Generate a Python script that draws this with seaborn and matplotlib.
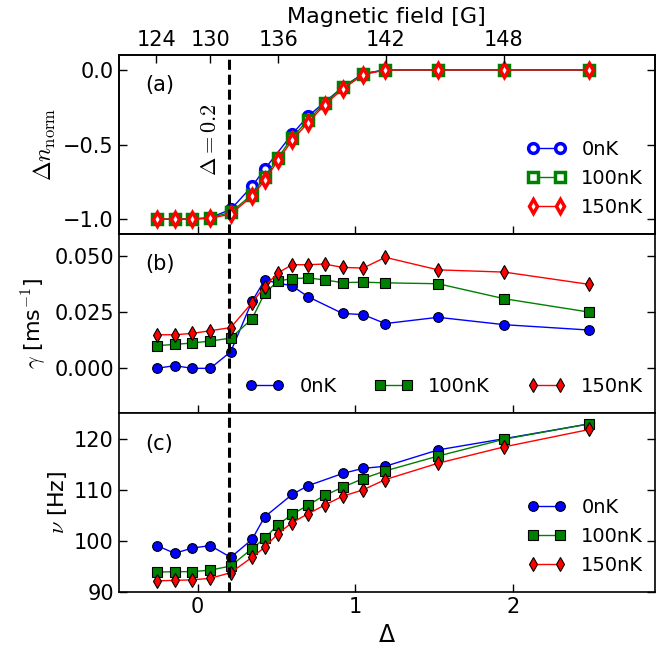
import numpy as np
import matplotlib
matplotlib.use("Agg")
import matplotlib.pyplot as plt
import seaborn as sns

# ---------------- data ----------------
delta_all = [-0.26, -0.145, -0.035, 0.08, 0.21, 0.345, 0.425, 0.51, 0.60, 0.70,
             0.805, 0.92, 1.05, 1.19, 1.525, 1.945, 2.485]
delta_0nK = [-0.26, -0.145, -0.035, 0.08, 0.21, 0.345, 0.425, 0.60, 0.70,
             0.92, 1.05, 1.19, 1.525, 1.945, 2.485]

dn_0nK = [-1.0, -1.0, -1.0, -0.99, -0.935, -0.78, -0.665, -0.43, -0.31,
          -0.115, -0.025, 0.0, 0.0, 0.0, 0.0]
dn_100nK = [-1.0, -1.0, -1.0, -0.99, -0.955, -0.835, -0.72, -0.588, -0.453, -0.336,
            -0.223, -0.117, -0.025, 0.0, 0.0, 0.0, 0.0]
dn_150nK = [-1.0, -1.0, -1.0, -0.995, -0.966, -0.847, -0.741, -0.606, -0.471, -0.354,
            -0.234, -0.128, -0.032, 0.0, 0.0, 0.0, 0.0]

gamma_0nK = [0.0, 0.0012, 0.0, 0.0, 0.0074, 0.0299, 0.0394, 0.0368, 0.032,
             0.0245, 0.024, 0.020, 0.0228, 0.0195, 0.0171]
gamma_100nK = [0.0101, 0.0107, 0.0113, 0.0122, 0.0135, 0.0221, 0.0335, 0.0390, 0.0401,
               0.0404, 0.0395, 0.0383, 0.0385, 0.0382, 0.0378, 0.0311, 0.0251]
gamma_150nK = [0.0150, 0.0150, 0.0156, 0.0168, 0.0182, 0.0293, 0.0365, 0.0427, 0.0463,
               0.0463, 0.0466, 0.0451, 0.0448, 0.0496, 0.0440, 0.0430, 0.0375]

nu_0nK = [99.1, 97.6, 98.6, 99.1, 96.8, 100.3, 104.7, 109.1, 110.8,
          113.2, 114.2, 114.6, 117.8, 120.0, 122.9]
nu_100nK = [93.9, 94.0, 94.0, 94.3, 95.1, 98.5, 100.5, 103.2, 105.2, 107.0,
            108.9, 110.5, 112.2, 113.7, 116.6, 119.9, 122.9]
nu_150nK = [92.2, 92.3, 92.4, 92.7, 93.8, 96.8, 98.75, 101.45, 103.6, 105.3,
            107.0, 108.75, 110.0, 112.0, 115.2, 118.4, 121.8]

labels = ["0nK", "100nK", "150nK"]
field_tick_pos = [-0.262, 0.08, 0.512, 1.192, 1.943]
field_tick_labels = ["124", "130", "136", "142", "148"]
delta_marker = 0.2

# ---------------- style ----------------
sns.set_style("ticks", {"xtick.direction": "in", "ytick.direction": "in"})
plt.rcParams["font.family"] = ["DejaVu Sans"]
plt.rcParams["mathtext.fontset"] = "cm"
for key in ["text.color", "axes.labelcolor", "xtick.color", "ytick.color",
            "axes.edgecolor", "xtick.labelcolor", "ytick.labelcolor"]:
    plt.rcParams[key] = "black"
plt.rcParams["axes.linewidth"] = 1.2
plt.rcParams["xtick.major.size"] = 6
plt.rcParams["ytick.major.size"] = 6
plt.rcParams["xtick.major.width"] = 1.0
plt.rcParams["ytick.major.width"] = 1.0
plt.rcParams["xtick.labelsize"] = 15
plt.rcParams["ytick.labelsize"] = 15

fig = plt.figure(figsize=(6.71, 6.55), dpi=100)
axes = fig.subplots(3, 1, sharex=True)
fig.subplots_adjust(left=0.177, right=0.976, top=0.916, bottom=0.096, hspace=0)

colors = ["b", "g", "r"]
markers = ["o", "s", "d"]
MS = 7


def draw(ax, x, y, i, hollow):
    kw = dict(x=x, y=y, color=colors[i], marker=markers[i], markersize=MS,
              linewidth=1.0, label=labels[i], ax=ax, sort=False, estimator=None)
    if hollow:
        kw.update(markerfacecolor="w", markeredgecolor=colors[i], markeredgewidth=2.5)
    else:
        kw.update(markerfacecolor=colors[i], markeredgecolor="k", markeredgewidth=0.8)
    sns.lineplot(**kw)


ax_a, ax_b, ax_c = axes
draw(ax_a, delta_0nK, dn_0nK, 0, True)
draw(ax_a, delta_all, dn_100nK, 1, True)
draw(ax_a, delta_all, dn_150nK, 2, True)

draw(ax_b, delta_0nK, gamma_0nK, 0, False)
draw(ax_b, delta_all, gamma_100nK, 1, False)
draw(ax_b, delta_all, gamma_150nK, 2, False)

draw(ax_c, delta_0nK, nu_0nK, 0, False)
draw(ax_c, delta_all, nu_100nK, 1, False)
draw(ax_c, delta_all, nu_150nK, 2, False)

for ax in axes:
    ax.axvline(delta_marker, color="k", linestyle=(0, (3.3, 1.6)), linewidth=2.2, zorder=5)
    ax.tick_params(axis="y", which="both", left=True, right=True)
    ax.tick_params(axis="x", which="both", bottom=True, top=False)
    ax.set_xlim(-0.5, 2.9)
    for s in ax.spines.values():
        s.set_visible(True)

ax_a.set_ylim(-1.1, 0.1)
ax_a.set_yticks([-1.0, -0.5, 0.0])
ax_a.set_yticklabels(["\u22121.0", "\u22120.5", "0.0"])
ax_b.set_ylim(-0.02, 0.06)
ax_b.set_yticks([0.0, 0.025, 0.05])
ax_b.set_yticklabels(["0.000", "0.025", "0.050"])
ax_c.set_ylim(90, 125)
ax_c.set_yticks([90, 100, 110, 120])
ax_c.set_xticks([0, 1, 2])

ax_a.set_ylabel(r"$\Delta n_{\rm norm}$", fontsize=17)
ax_b.set_ylabel(r"$\gamma$ [ms$^{\mathsf{-1}}$]", fontsize=16)
ax_c.set_ylabel(r"$\nu$ [Hz]", fontsize=16)
ax_c.set_xlabel("\u0394", fontsize=17)

for ax, t in zip(axes, ["(a)", "(b)", "(c)"]):
    ax.text(0.05, 0.83, t, transform=ax.transAxes, fontsize=15, ha="left", va="center")

ax_a.text(0.08, -0.47, r"$\Delta=0.2$", rotation=90, fontsize=16, ha="center", va="center")

top = ax_a.twiny()
top.set_xlim(ax_a.get_xlim())
top.set_xticks(field_tick_pos)
top.set_xticklabels(field_tick_labels)
top.tick_params(axis="x", direction="in", length=6, labelsize=15, top=True, bottom=False)
top.set_xlabel("Magnetic field [G]", fontsize=16, labelpad=5)

leg_kw = dict(frameon=False, numpoints=2, fontsize=14, handlelength=2.0,
              handletextpad=0.8, loc="lower right", bbox_to_anchor=(1.011, 0.0))
ax_a.legend(labelspacing=0.5, **leg_kw)
ax_b.legend(ncol=3, columnspacing=1.9, **leg_kw)
ax_c.legend(labelspacing=0.5, **leg_kw)

fig.savefig("out.png", dpi=100)
